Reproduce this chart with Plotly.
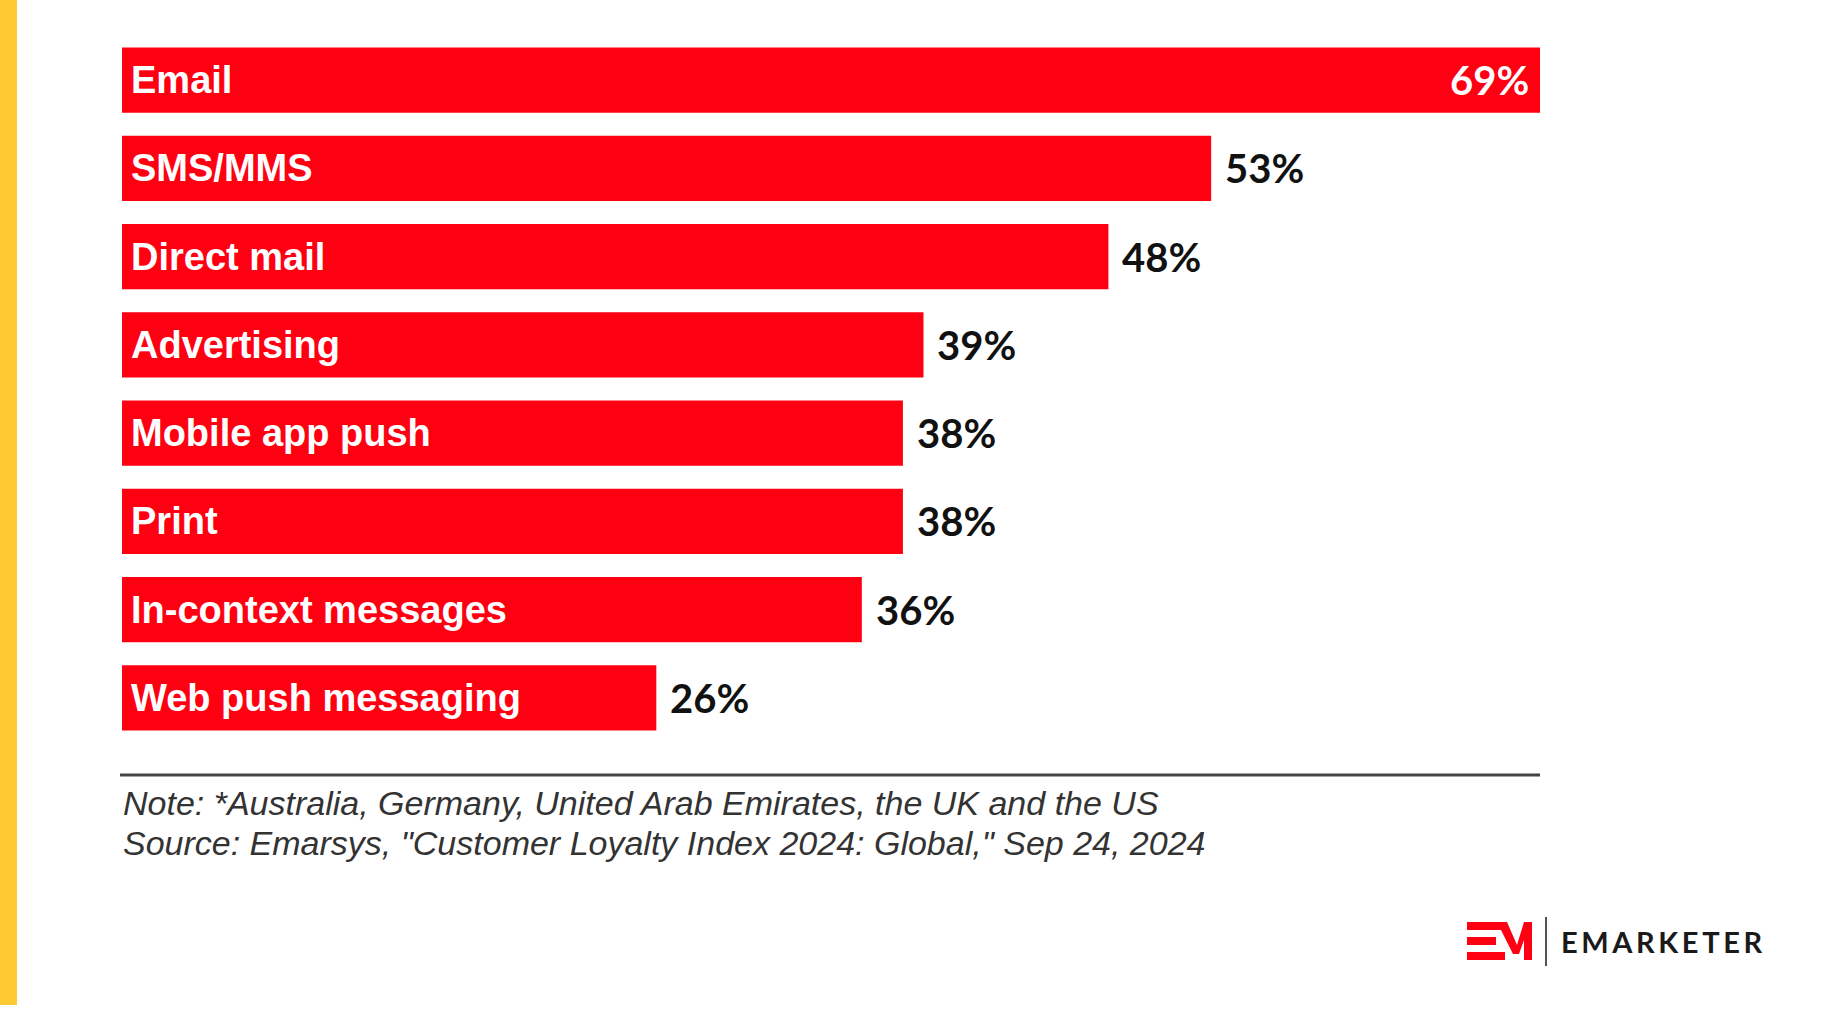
import plotly.graph_objects as go

categories = ["Email", "SMS/MMS", "Direct mail", "Advertising", "Mobile app push",
              "Print", "In-context messages", "Web push messaging"]
values = [69, 53, 48, 39, 38, 38, 36, 26]
value_labels = ["69%", "53%", "48%", "39%", "38%", "38%", "36%", "26%"]

W, H = 1838, 1022
L, R = 122, 1540          # plot area in px
T, B = 36, 742

def px(x):
    return (x - L) / (R - L)

def py(y):
    return (B - y) / (B - T)

RED = "#FF0012"

fig = go.Figure()
fig.add_trace(go.Bar(
    x=values, y=categories, orientation="h",
    marker=dict(color=RED, line=dict(width=0)),
    width=0.74, hoverinfo="skip",
))

ann = []
for c, v, lab in zip(categories, values, value_labels):
    ann.append(dict(x=0, y=c, xref="x", yref="y", text=c, showarrow=False,
                    xanchor="left", xshift=7, yanchor="middle",
                    font=dict(family="Liberation Sans, Arial", size=38, color="white", weight="bold")))
    inside = v == max(values)
    ann.append(dict(x=v, y=c, xref="x", yref="y", text=lab, showarrow=False,
                    xanchor="right" if inside else "left", xshift=-9 if inside else 12,
                    yanchor="middle",
                    font=dict(family="Lato", size=40, color="white" if inside else "#111111", weight="bold")))

ann.append(dict(x=px(121), y=py(803), xref="paper", yref="paper", showarrow=False,
                xanchor="left", yanchor="middle",
                text="<i>Note: *Australia, Germany, United Arab Emirates, the UK and the US</i>",
                font=dict(family="Liberation Sans, Arial", size=34, color="#333333")))
ann.append(dict(x=px(121), y=py(843), xref="paper", yref="paper", showarrow=False,
                xanchor="left", yanchor="middle",
                text="<i>Source: Emarsys, \"Customer Loyalty Index 2024: Global,\" Sep 24, 2024</i>",
                font=dict(family="Liberation Sans, Arial", size=34, color="#333333")))
ann.append(dict(x=px(1559), y=py(941), xref="paper", yref="paper", showarrow=False,
                xanchor="left", yanchor="middle",
                text="E M A R K E T E R".replace(" ", "\u2009"),
                font=dict(family="Lato", size=29, color="#1a1a1a", weight="bold")))

shapes = [
    dict(type="rect", xref="paper", yref="paper", x0=px(0), x1=px(17), y0=py(0), y1=py(1005),
         fillcolor="#FFC933", line=dict(width=0), layer="below"),
    dict(type="line", xref="paper", yref="paper", x0=px(120), x1=px(1540), y0=py(775), y1=py(775),
         line=dict(color="#444444", width=3)),
    # logo E bars
    dict(type="rect", xref="paper", yref="paper", x0=px(1467), x1=px(1505), y0=py(922), y1=py(930),
         fillcolor=RED, line=dict(width=0)),
    dict(type="rect", xref="paper", yref="paper", x0=px(1467), x1=px(1496), y0=py(937), y1=py(945),
         fillcolor=RED, line=dict(width=0)),
    dict(type="rect", xref="paper", yref="paper", x0=px(1467), x1=px(1505), y0=py(952), y1=py(960),
         fillcolor=RED, line=dict(width=0)),
    # divider
    dict(type="line", xref="paper", yref="paper", x0=px(1546), x1=px(1546), y0=py(917), y1=py(966),
         line=dict(color="#555555", width=2)),
]
# logo M as path (pixel coords -> paper)
mpts = [(1497, 922), (1507, 922), (1517, 945), (1524, 922), (1532, 922), (1532, 960),
        (1524, 960), (1524, 940), (1519, 954), (1513, 954)]
path = "M " + " L ".join(f"{px(x)},{py(y)}" for x, y in mpts) + " Z"
shapes.append(dict(type="path", xref="paper", yref="paper", path=path, fillcolor=RED, line=dict(width=0)))

fig.update_layout(
    width=W, height=H,
    margin=dict(l=L, r=W - R, t=T, b=H - B, pad=0),
    paper_bgcolor="white", plot_bgcolor="white",
    showlegend=False,
    xaxis=dict(range=[0, 69], visible=False, fixedrange=True),
    yaxis=dict(autorange="reversed", visible=False, fixedrange=True),
    annotations=ann, shapes=shapes,
)

fig.write_html("out.html", config={"displayModeBar": False})
